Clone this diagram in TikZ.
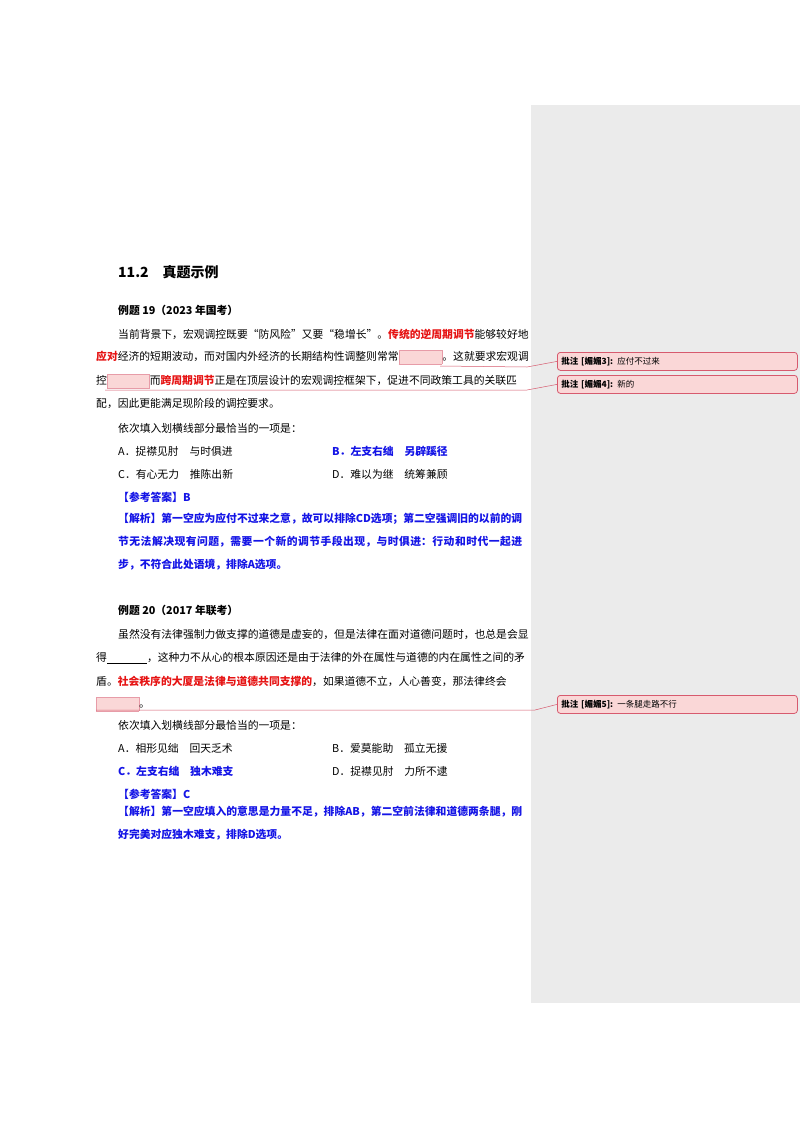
\documentclass[tikz,border=0pt]{standalone}
\usepackage{fontspec}
\setmainfont{Noto Sans CJK SC}
\XeTeXlinebreaklocale "zh"
\XeTeXlinebreakskip=0pt plus 2pt
\definecolor{rd}{RGB}{230,20,20}
\definecolor{bl}{RGB}{20,20,230}
\definecolor{cm}{RGB}{215,90,110}
\definecolor{cmf}{RGB}{250,215,215}
\definecolor{sb}{RGB}{235,235,235}
\newcommand\blk[1]{{\setlength\fboxsep{0pt}\setlength\fboxrule{0.4pt}\fcolorbox{cm!60}{cmf}{\rule[-3pt]{0pt}{13pt}\hspace{#1}}}}
\newcommand\myline[2]{\makebox[#1][s]{#2}}
\tikzset{t/.style={anchor=west,inner sep=0,font=\fontsize{10.8}{12}\selectfont},
 b/.style={t,font=\fontsize{10.8}{12}\selectfont\bfseries},
 par/.style={b,text=bl,text width=404pt,align=justify,font=\fontsize{10.8}{23}\selectfont\bfseries,anchor=north west},
 cbox/.style={draw=cm,fill=cmf,rounded corners=3pt,line width=0.8pt,minimum width=240pt,minimum height=18pt,anchor=north west,inner sep=3pt,text width=232pt,font=\fontsize{8.5}{9}\selectfont},
 cl/.style={draw=cm,line width=0.5pt}}
\begin{document}
\begin{tikzpicture}[x=1pt,y=-1pt]
\useasboundingbox (0,0) rectangle (800,1132);
\fill[white] (0,0) rectangle (800,1132);
\fill[sb] (531,105) rectangle (800,1003);
\node[t,font=\fontsize{14}{14}\selectfont\bfseries] (h) at (118,272) {11.2\quad 真题示例};
\node[b] (e19) at (118,310) {例题 19（2023 年国考）};
\node[t] (l1) at (118,334) {\myline{404pt}{当前背景下，宏观调控既要“防风险”又要“稳增长”。{\color{rd}\bfseries 传统的逆周期调节}能够较好地}};
\node[t] (l2) at (96,357) {\myline{426pt}{{\color{rd}\bfseries 应对}经济的短期波动，而对国内外经济的长期结构性调整则常常\blk{43pt}。这就要求宏观调}};
\node[t] (l3) at (96,381) {\myline{426pt}{控\blk{42pt}而{\color{rd}\bfseries 跨周期调节}正是在顶层设计的宏观调控框架下，促进不同政策工具的关联匹}};
\node[t] (l4) at (96,404) {配，因此更能满足现阶段的调控要求。};
\node[t] (q1) at (118,428) {依次填入划横线部分最恰当的一项是：};
\node[t] (a1) at (118,451) {A．捉襟见肘\quad 与时俱进};
\node[b,text=bl] (b1) at (332,451) {B．左支右绌\quad 另辟蹊径};
\node[t] (c1) at (118,474) {C．有心无力\quad 推陈出新};
\node[t] (d1) at (332,474) {D．难以为继\quad 统筹兼顾};
\node[b,text=bl] (k1) at (118,497) {【参考答案】B};
\node[par] (j1) at (118,513) {【解析】第一空应为应付不过来之意，故可以排除CD选项；第二空强调旧的以前的调节无法解决现有问题，需要一个新的调节手段出现，与时俱进：行动和时代一起进步，不符合此处语境，排除A选项。};
\node[b] (e20) at (118,610) {例题 20（2017 年联考）};
\node[t] (m1) at (118,634) {\myline{404pt}{虽然没有法律强制力做支撑的道德是虚妄的，但是法律在面对道德问题时，也总是会显}};
\node[t] (m2) at (96,658) {\myline{426pt}{得\underline{\hspace{40pt}}，这种力不从心的根本原因还是由于法律的外在属性与道德的内在属性之间的矛}};
\node[t] (m3) at (96,681) {\myline{426pt}{盾。{\color{rd}\bfseries 社会秩序的大厦是法律与道德共同支撑的}，如果道德不立，人心善变，那法律终会}};
\node[t] (m4) at (96,704) {\blk{42pt}。};
\node[t] (q2) at (118,725) {依次填入划横线部分最恰当的一项是：};
\node[t] (a2) at (118,748) {A．相形见绌\quad 回天乏术};
\node[t] (b2) at (332,748) {B．爱莫能助\quad 孤立无援};
\node[b,text=bl] (c2) at (118,771) {C．左支右绌\quad 独木难支};
\node[t] (d2) at (332,771) {D．捉襟见肘\quad 力所不逮};
\node[b,text=bl] (k2) at (118,794) {【参考答案】C};
\node[par] (j2) at (118,806) {【解析】第一空应填入的意思是力量不足，排除AB，第二空前法律和道德两条腿，刚好完美对应独木难支，排除D选项。};
% comments
\node[cbox] (c3) at (557,352) {\textbf{批注 [媚媚3]:} 应付不过来};
\node[cbox] (c4) at (557,375) {\textbf{批注 [媚媚4]:} 新的};
\node[cbox] (c5) at (557,695) {\textbf{批注 [媚媚5]:} 一条腿走路不行};
\coordinate (p3) at (440,366); \coordinate (q3) at (527,367);
\coordinate (p4) at (105,390); \coordinate (q4) at (527,390);
\coordinate (p5) at (96,710); \coordinate (q5) at (535,710);
\draw[cl] (p3) -- (q3) -- (c3.west);
\draw[cl] (p4) -- (q4) -- (c4.west);
\draw[cl] (p5) -- (q5) -- (c5.west);
\end{tikzpicture}
\end{document}
